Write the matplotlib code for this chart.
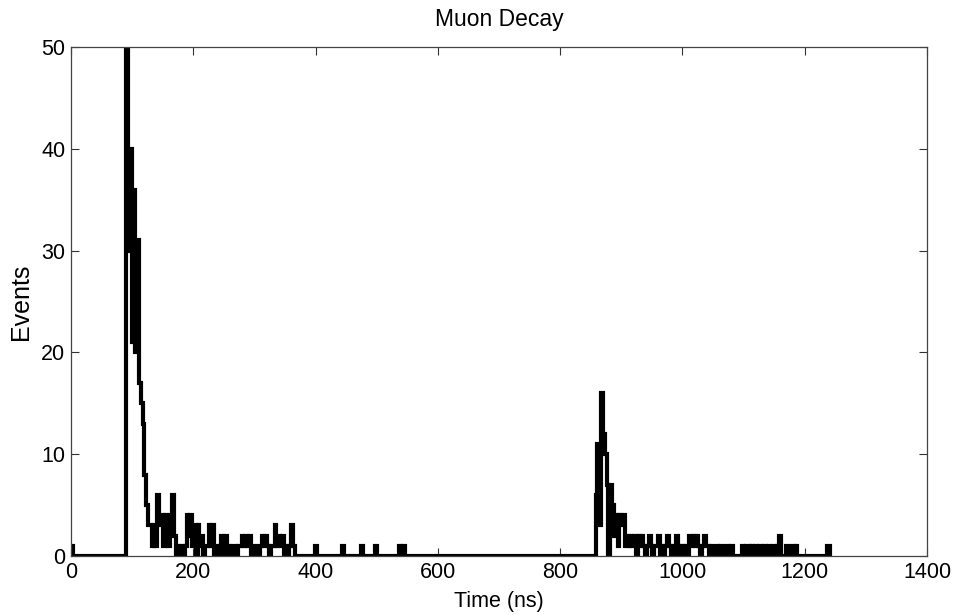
import numpy as np
import matplotlib
matplotlib.use("Agg")
import matplotlib.pyplot as plt

plt.rcParams['font.family'] = ['Liberation Sans', 'DejaVu Sans']

# ---- data (histogram counts, 3 ns bins) ----
bin_width = 3
t_end = 1242

seg1_start = 90
seg1_counts = [50, 30, 40, 21, 36, 20, 31, 17, 15, 13, 8, 5, 3, 3, 1, 3, 1, 6, 3, 4,
               1, 4, 2, 1, 4, 6, 2, 0, 1, 0, 1, 0, 1, 4, 2, 4, 1, 3, 0, 3,
               1, 2, 0, 1, 1, 3, 1, 3, 0, 1, 0, 1, 2, 0, 2, 1, 0, 0, 1, 1,
               0, 1, 1, 2, 1, 2, 1, 2, 0, 1, 1, 0, 0, 1, 2, 1, 2, 1, 0, 1,
               1, 3, 1, 2, 1, 2, 0, 1, 0, 1, 3, 1, 0]

seg2_start = 858
seg2_counts = [6, 11, 3, 16, 12, 10, 7, 0, 7, 5, 2, 4, 1, 4, 3, 4, 1, 2, 1, 2,
               1, 2, 0, 2, 1, 2, 1, 0, 1, 2, 1, 0, 1, 1, 2, 0, 1, 0, 1, 2,
               1, 0, 1, 0, 2, 1, 0, 1, 0, 1, 0, 2, 1, 2, 1, 2, 1, 0, 1, 2,
               1, 1, 0, 1, 0, 0, 1, 0, 1, 0, 0, 1, 1, 0, 1, 0, 0, 0, 0, 0,
               1, 0, 1, 1, 0, 1, 0, 1, 0, 1, 1, 0, 1, 0, 1, 0, 0, 1, 0, 1,
               2, 0, 0, 0, 1, 0, 0, 1, 0, 1, 0, 0, 0, 0, 0]

isolated_times = [0, 399, 444, 474, 498, 537, 543, 1236, 1239]
isolated_counts = [1, 1, 1, 1, 1, 1, 1, 1, 1]

# ---- assemble the binned series ----
times = np.arange(0, t_end + 1, bin_width)
counts = np.zeros_like(times)
i1 = seg1_start // bin_width
counts[i1:i1 + len(seg1_counts)] = seg1_counts
i2 = seg2_start // bin_width
counts[i2:i2 + len(seg2_counts)] = seg2_counts
for t, c in zip(isolated_times, isolated_counts):
    counts[t // bin_width] = c

fig = plt.figure(figsize=(9.58, 6.15), dpi=100)
ax = fig.add_axes([0.0741, 0.0959, 0.8935, 0.8277])
ax.step(times, counts, where='post', color='black', linewidth=3.0,
        solid_joinstyle='miter')

ax.set_xlim(0, 1400)
ax.set_ylim(0, 50)
ax.set_xticks(np.arange(0, 1401, 200))
ax.set_yticks(np.arange(0, 51, 10))
ax.tick_params(direction='in', top=True, right=True, length=6, width=0.8,
               labelsize=15.5, color='#333333', pad=4)
for s in ax.spines.values():
    s.set_color('#444444')
    s.set_linewidth(0.9)

ax.set_title('Muon Decay', fontsize=16.5, pad=15)
ax.set_xlabel('Time (ns)', fontsize=15.5, labelpad=6)
ax.set_ylabel('Events', fontsize=18, labelpad=6)

fig.savefig('out.png', dpi=100)
